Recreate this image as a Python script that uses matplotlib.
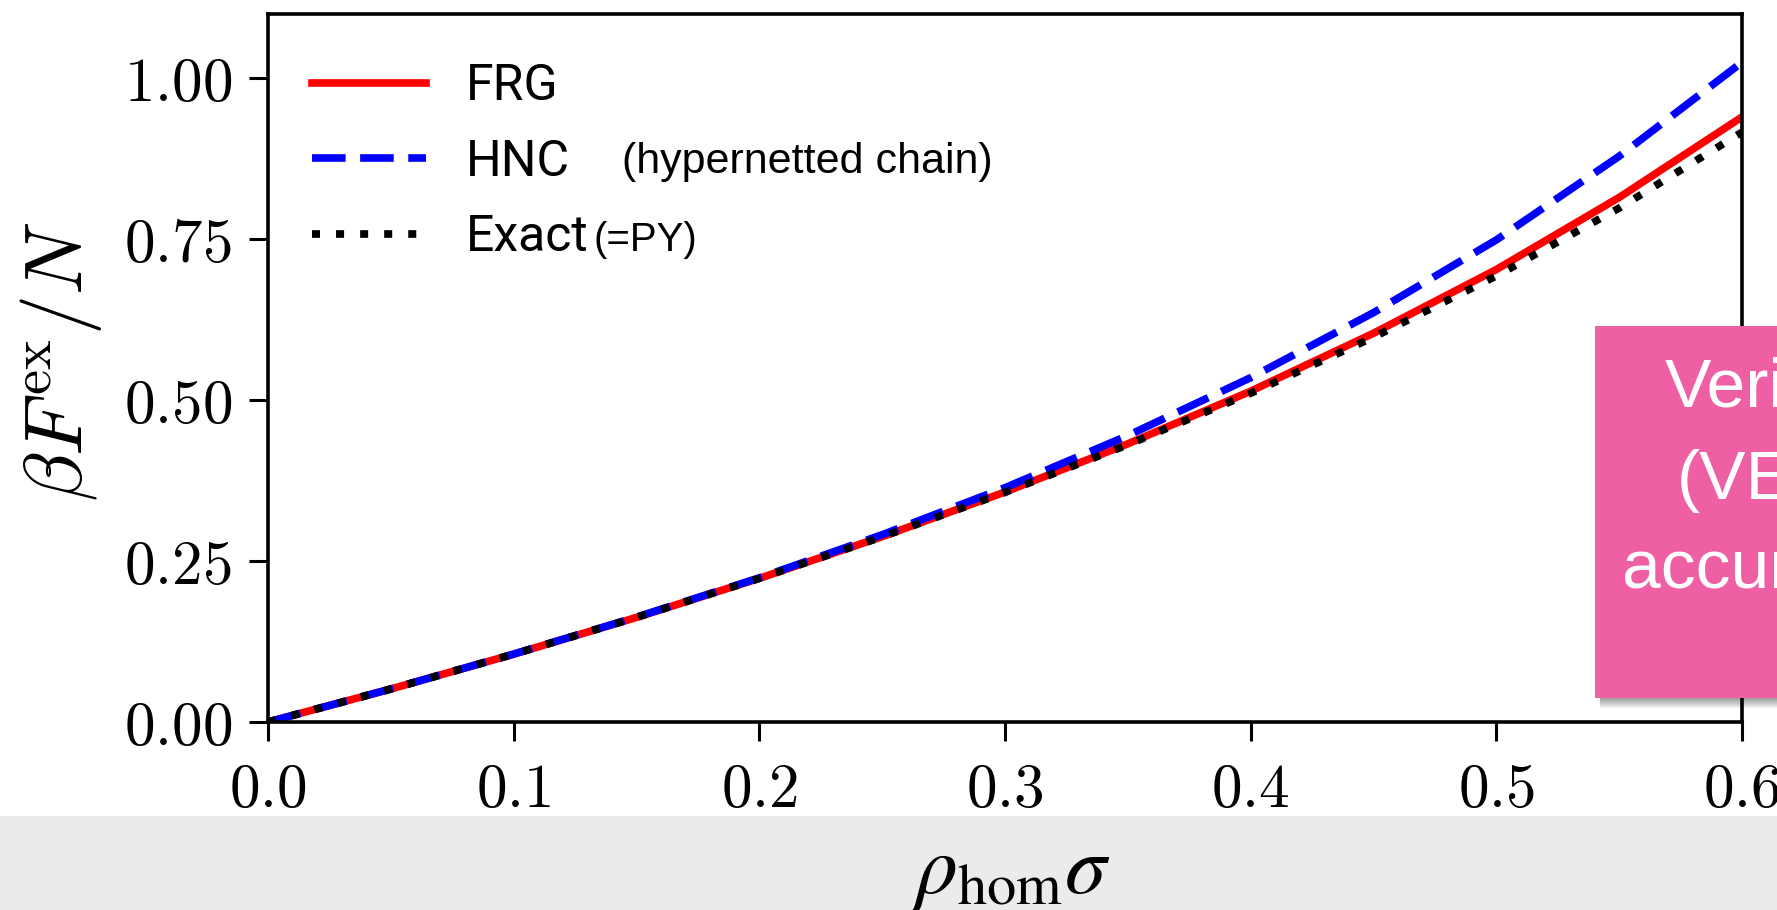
import matplotlib
matplotlib.use('Agg')
import matplotlib.pyplot as plt
from matplotlib.patches import Rectangle

plt.rcParams['mathtext.fontset'] = 'cm'

# packing fraction rho*sigma and beta F_ex / N
rho = [0.0, 0.05, 0.10, 0.15, 0.20, 0.25, 0.30, 0.35, 0.40, 0.45, 0.50, 0.55, 0.60]
frg = [0.0, 0.0513, 0.1054, 0.1625, 0.2232, 0.2880, 0.3573, 0.4322, 0.5140, 0.6040, 0.7030, 0.8150, 0.9400]
hnc = [0.0, 0.0513, 0.1055, 0.1630, 0.2240, 0.2910, 0.3640, 0.4450, 0.5350, 0.6360, 0.7490, 0.8790, 1.0250]
exact = [0.0, 0.0513, 0.1054, 0.1625, 0.2231, 0.2877, 0.3567, 0.4308, 0.5108, 0.5978, 0.6931, 0.7985, 0.9163]

xticks = [0.0, 0.1, 0.2, 0.3, 0.4, 0.5, 0.6]
yticks = [0.00, 0.25, 0.50, 0.75, 1.00]

W, H = 1777, 910
fig = plt.figure(figsize=(W / 100, H / 100), dpi=100)
ax = fig.add_axes([268 / W, 1 - 722 / H, 1474 / W, 708 / H])

lw = 5.5
ax.plot(rho, frg, color='red', lw=lw, label='FRG')
ax.plot(rho, hnc, color='blue', lw=lw, dashes=(4.4, 1.9), label='HNC')
ax.plot(rho, exact, color='black', lw=lw, dashes=(1.05, 2.1), label='Exact')

ax.set_xlim(0, 0.6)
ax.set_ylim(0, 1.10)
ax.set_xticks(xticks)
ax.set_xticklabels([f'${v:.1f}$' for v in xticks])
ax.set_yticks(yticks)
ax.set_yticklabels([f'${v:.2f}$' for v in yticks])
ax.tick_params(length=14, width=2.2, labelsize=44, direction='out')
ax.tick_params(axis='x', pad=14)
ax.tick_params(axis='y', pad=12)
for s in ax.spines.values():
    s.set_linewidth(2.6)

leg_font = {'family': 'Roboto', 'size': 36}
ax.legend(loc='upper left', bbox_to_anchor=(44 / 1474, 0.932), frameon=False,
          prop=leg_font, handlelength=2.28, handletextpad=0.8, labelspacing=0.55,
          borderpad=0, borderaxespad=0)
ax.text((622 - 268) / 1474, (722 - 162) / 708, '(hypernetted chain)', transform=ax.transAxes,
        fontsize=31, family='Liberation Sans', va='center', ha='left')
ax.text((593 - 268) / 1474, (722 - 240) / 708, '(=PY)', transform=ax.transAxes,
        fontsize=29, family='Liberation Sans', va='center', ha='left')

fig.text(61 / W, 1 - 361 / H, r'$\beta F^{\rm ex}/N$', rotation=90,
         ha='center', va='center', fontsize=58)

# grey band of the slide with the x label
fig.add_artist(Rectangle((0, 0), 1, 94 / H, transform=fig.transFigure,
                         color='#ebebeb', zorder=0))
fig.text(1012 / W, 1 - 871 / H, r'$\rho_{\rm hom}\sigma$', ha='center', va='center',
         fontsize=60, math_fontfamily='stix')

# pink callout box with shadow, cut off at the right edge
bx0, by_top, by_bot = 1595, 326, 698
for i in range(1, 11):
    fig.add_artist(Rectangle(((bx0 + 5) / W, 1 - (by_bot + i) / H), 1, (by_bot - by_top) / H,
                             transform=fig.transFigure, color='black', alpha=0.045,
                             lw=0, zorder=4))
fig.add_artist(Rectangle((bx0 / W, 1 - by_bot / H), 1, (by_bot - by_top) / H,
                         transform=fig.transFigure, color='#ee5fa4', lw=0, zorder=5))
box_font = 'Liberation Sans'
fig.text(1665 / W, 1 - 407 / H, 'Verified', color='white', fontsize=50,
         family=box_font, ha='left', va='baseline', zorder=6)
fig.text(1677 / W, 1 - 499 / H, '(VERY', color='white', fontsize=50,
         family=box_font, ha='left', va='baseline', zorder=6)
fig.text(1622 / W, 1 - 588 / H, 'accurate)', color='white', fontsize=50,
         family=box_font, ha='left', va='baseline', zorder=6)

fig.savefig('out.png', dpi=100)
